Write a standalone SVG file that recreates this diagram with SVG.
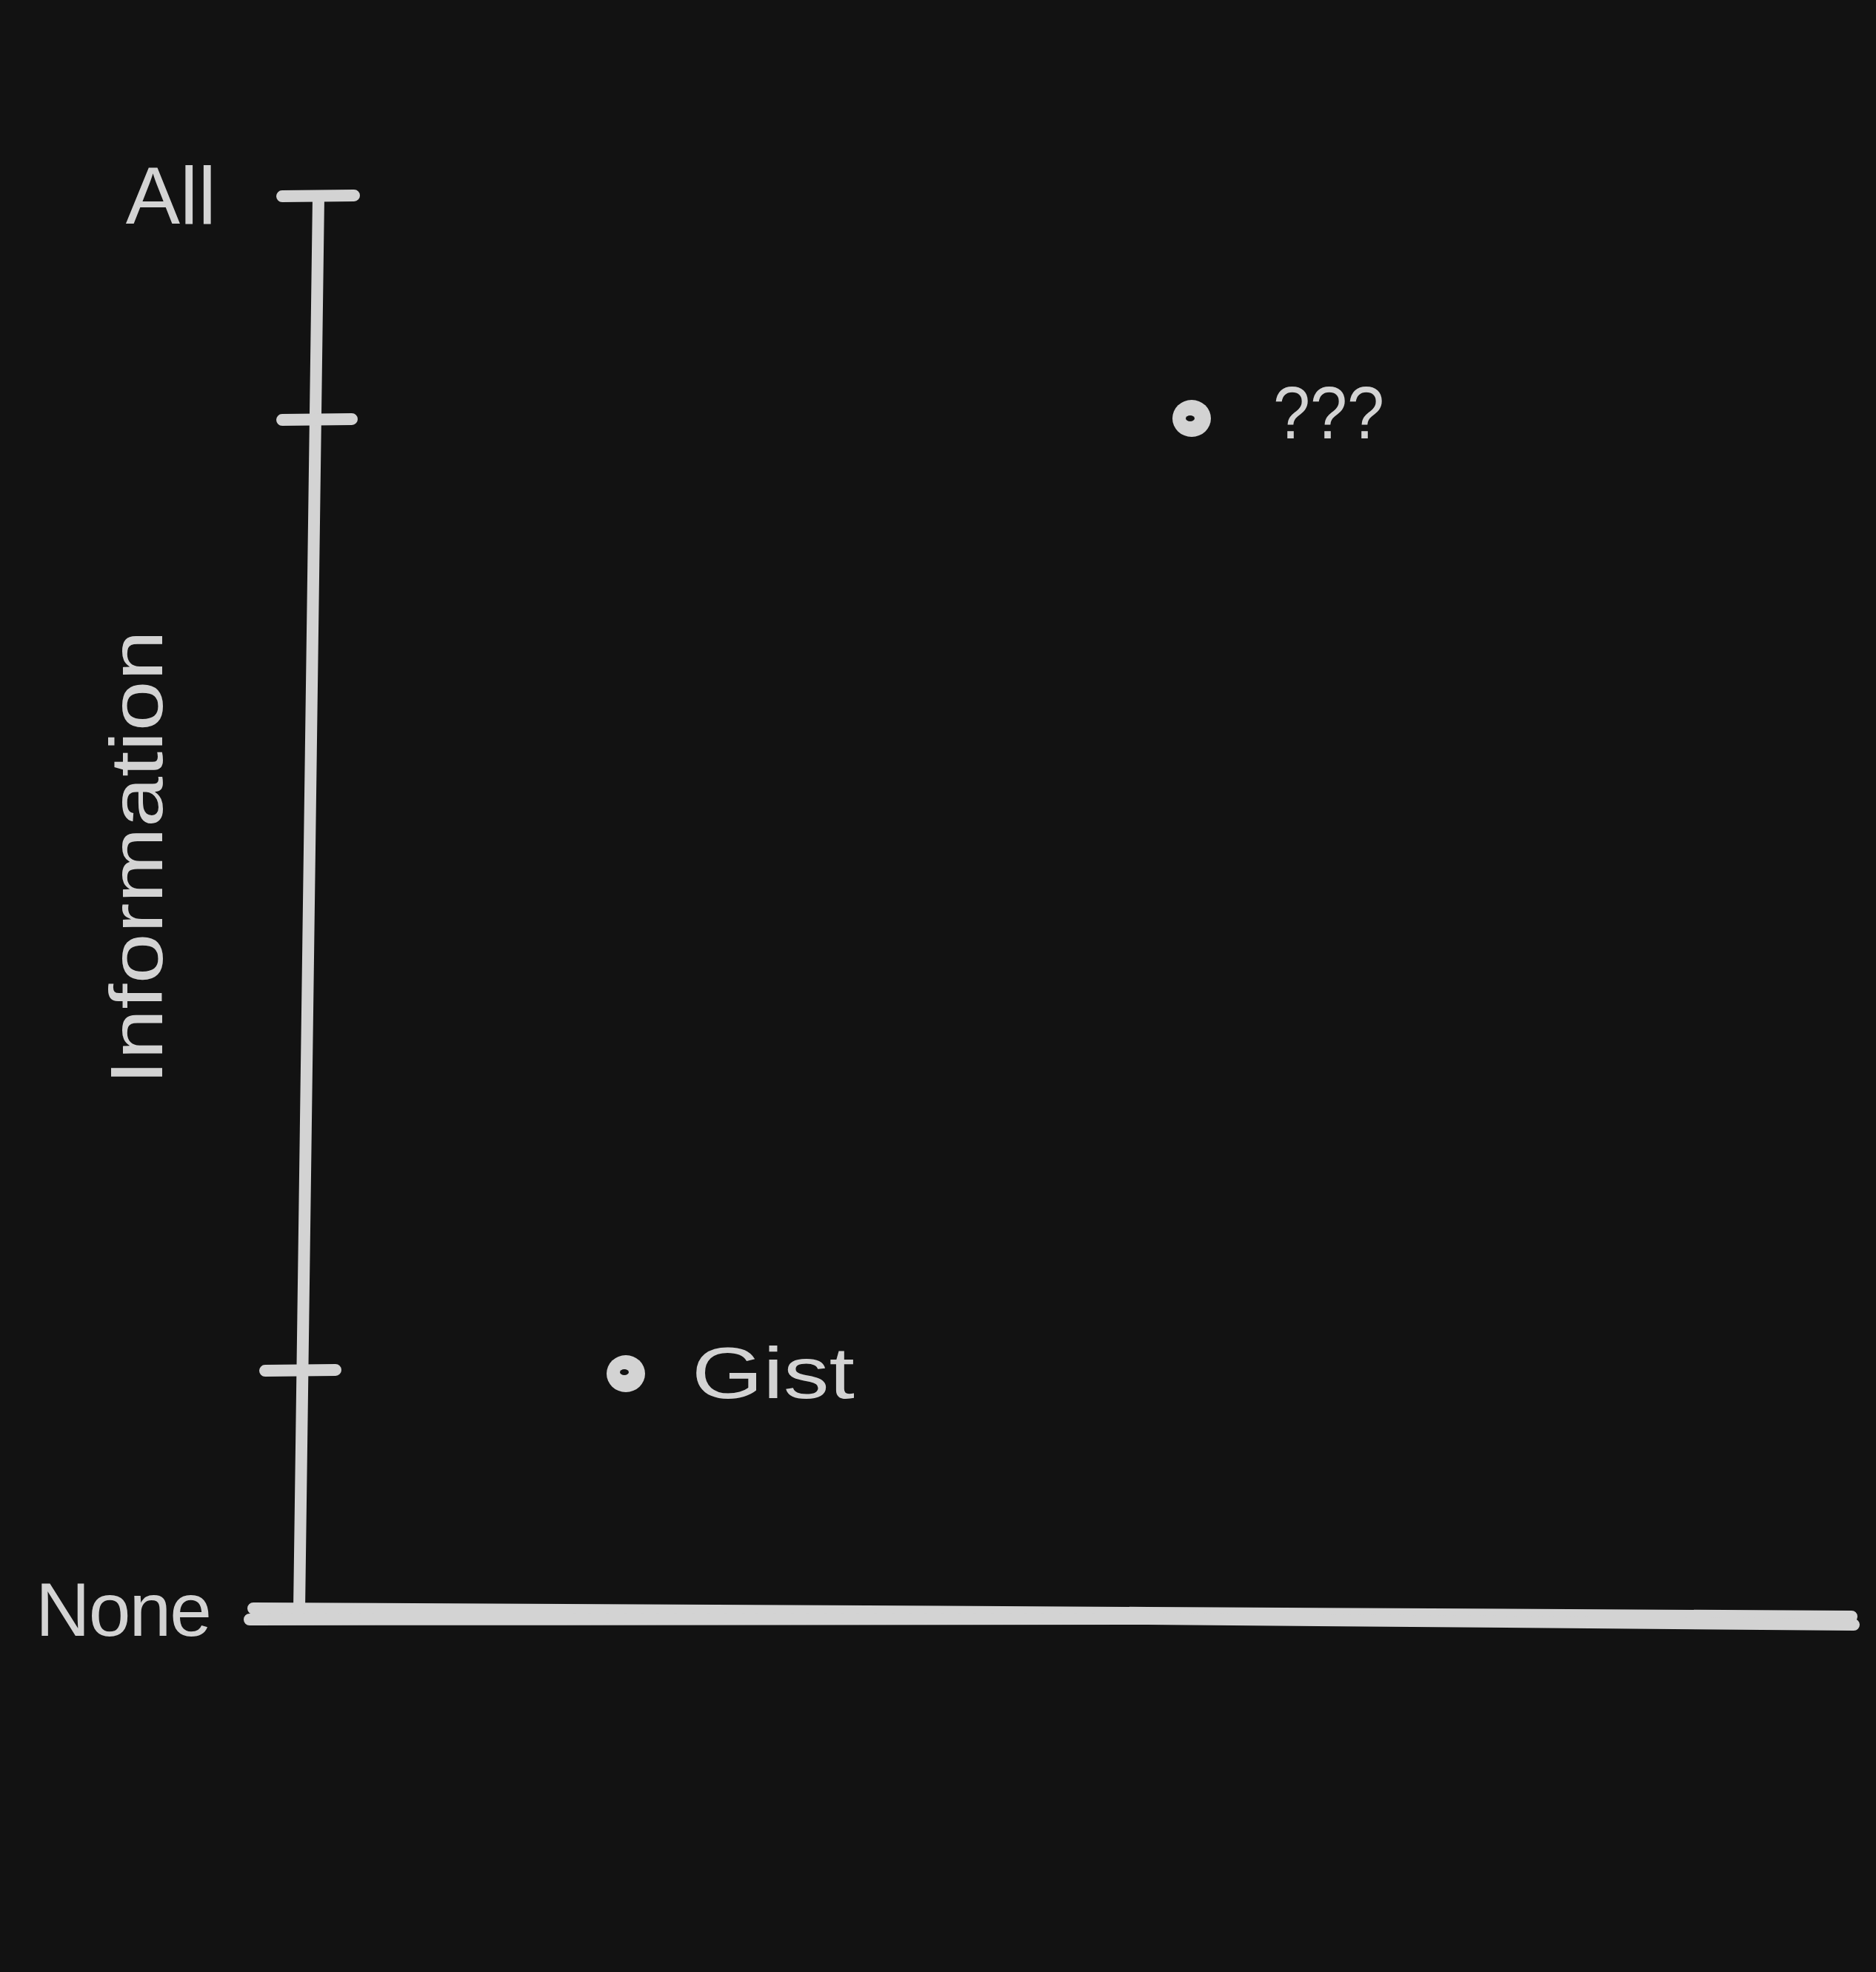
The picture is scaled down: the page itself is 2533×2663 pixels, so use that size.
<svg xmlns="http://www.w3.org/2000/svg" width="2533" height="2663" viewBox="0 0 2533 2663">
<style>
.ln{stroke:#d3d3d3;stroke-width:16;stroke-linecap:round;fill:none}
.tx{fill:#d3d3d3;font-family:"Liberation Sans",Arial,sans-serif}
.dot{fill:#d3d3d3}
.hole{fill:#121212}
</style>
<rect width="2533" height="2663" fill="#121212"/>
<g id="connectors">
<g id="y-axis">
<line class="ln" x1="430" y1="266" x2="404" y2="2174"/>
<line class="ln" x1="381" y1="265" x2="478" y2="264"/>
<line class="ln" x1="381" y1="567" x2="475" y2="566"/>
<line class="ln" x1="358" y1="1851" x2="453" y2="1850"/>
</g>
<g id="x-axis">
<path class="ln" d="M342 2172 L1550 2178 L2500 2183"/>
<path class="ln" d="M337 2187 L1550 2186 L2503 2194"/>
</g>
</g>
<g id="label-all"><text class="tx" x="292" y="302" font-size="110" text-anchor="end">All</text></g>
<g id="label-none"><text class="tx" x="48" y="2209" font-size="102" textLength="238">None</text></g>
<g id="label-information"><text class="tx" transform="translate(219,1465) rotate(-90)" x="0" y="0" font-size="100" textLength="614" lengthAdjust="spacingAndGlyphs">Information</text></g>
<g id="point-unknown">
<ellipse class="dot" cx="1609" cy="565" rx="26" ry="25"/>
<ellipse class="hole" cx="1607" cy="565" rx="6" ry="4"/>
<text class="tx" x="1719" y="592" font-size="100" textLength="150" lengthAdjust="spacingAndGlyphs">???</text>
</g>
<g id="point-gist">
<ellipse class="dot" cx="845" cy="1855" rx="26" ry="25"/>
<ellipse class="hole" cx="843" cy="1853" rx="6" ry="4"/>
<text class="tx" x="934" y="1888" font-size="98" textLength="220" lengthAdjust="spacingAndGlyphs">Gist</text>
</g>
</svg>
